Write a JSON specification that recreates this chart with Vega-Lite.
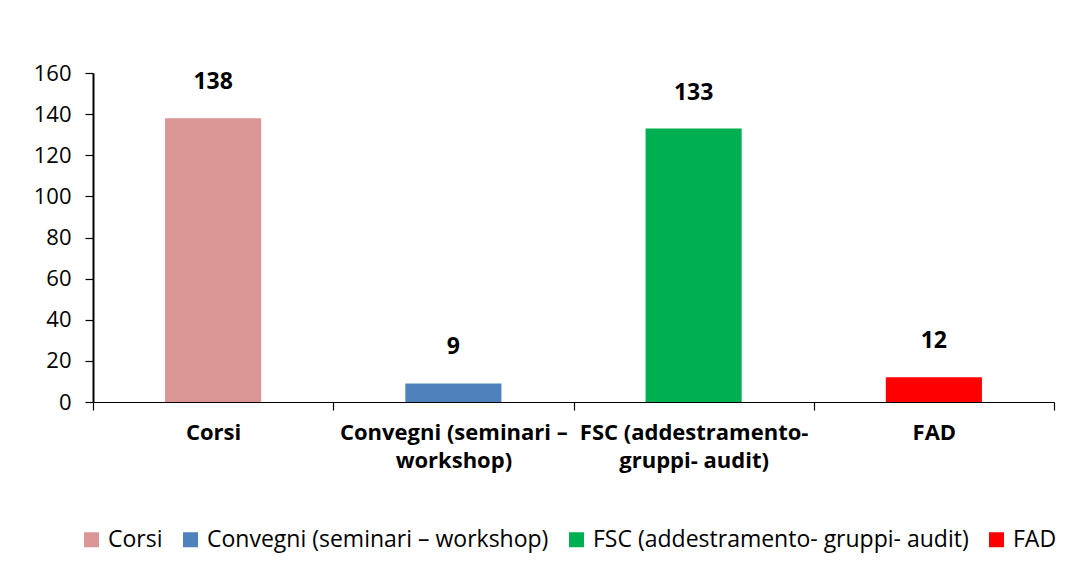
{
  "$schema": "https://vega.github.io/schema/vega-lite/v6.json",
  "width": 961,
  "height": 329,
  "autosize": {"type": "none"},
  "padding": {"left": 93, "top": 73, "right": 33, "bottom": 163},
  "background": "white",
  "config": {
    "view": {"stroke": null},
    "font": "Open Sans",
    "axis": {"grid": false, "domainColor": "black", "tickColor": "black", "labelColor": "black", "labelFont": "Open Sans", "labelFontSize": 22},
    "legend": {"labelFont": "Open Sans", "labelFontSize": 23, "labelColor": "black"}
  },
  "data": {
    "values": [
      {"cat": "Corsi", "value": 138, "ord": 1},
      {"cat": "Convegni (seminari – workshop)", "value": 9, "ord": 2},
      {"cat": "FSC (addestramento- gruppi- audit)", "value": 133, "ord": 3},
      {"cat": "FAD", "value": 12, "ord": 4}
    ]
  },
  "encoding": {
    "x": {
      "field": "cat", "type": "nominal",
      "sort": {"field": "ord"},
      "scale": {"paddingInner": 0, "paddingOuter": 0},
      "axis": {
        "title": null, "labelAngle": 0, "labelFontWeight": "bold", "labelPadding": 12,
        "tickBand": "extent", "tickSize": 8, "domainWidth": 1.2, "tickWidth": 1.2,
        "labelBaseline": "top", "labelLineHeight": 28, "labelLimit": 0,
        "labelExpr": "datum.value == 'Convegni (seminari – workshop)' ? ['Convegni (seminari –', 'workshop)'] : datum.value == 'FSC (addestramento- gruppi- audit)' ? ['FSC (addestramento-', 'gruppi- audit)'] : datum.value"
      }
    },
    "y": {
      "field": "value", "type": "quantitative",
      "scale": {"domain": [0, 160]},
      "axis": {"title": null, "values": [0, 20, 40, 60, 80, 100, 120, 140, 160], "tickSize": 8, "labelPadding": 14, "domainWidth": 2, "tickWidth": 1.2}
    }
  },
  "layer": [
    {
      "mark": {"type": "bar", "width": {"band": 0.4}},
      "encoding": {
        "color": {
          "field": "cat", "type": "nominal",
          "sort": {"field": "ord"},
          "scale": {
            "domain": ["Corsi", "Convegni (seminari – workshop)", "FSC (addestramento- gruppi- audit)", "FAD"],
            "range": ["#D99694", "#4F81BD", "#00B050", "#FF0000"]
          },
          "legend": {
            "title": null, "orient": "none", "direction": "horizontal",
            "legendX": -13, "legendY": 455, "columns": 4,
            "symbolType": "square", "symbolSize": 225, "symbolStrokeWidth": 0,
            "labelOffset": 5, "columnPadding": 16, "labelLimit": 0
          }
        }
      }
    },
    {
      "mark": {"type": "text", "dy": -36, "fontSize": 23, "fontWeight": "bold", "color": "black", "baseline": "middle", "font": "Open Sans"},
      "encoding": {"text": {"field": "value", "type": "quantitative"}}
    }
  ]
}
